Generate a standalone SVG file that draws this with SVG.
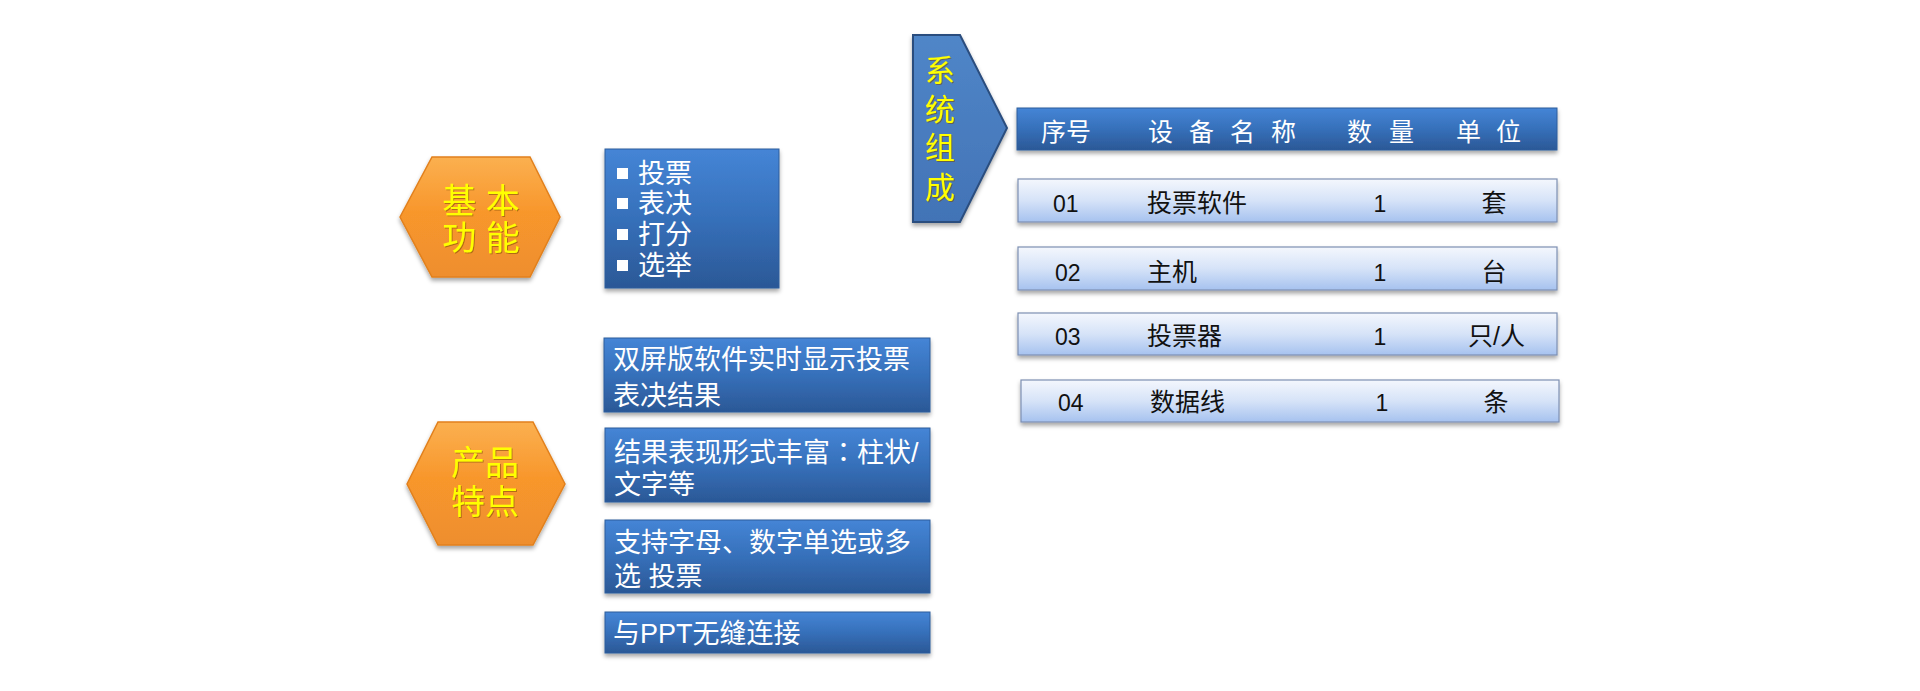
<svg xmlns="http://www.w3.org/2000/svg" width="1920" height="691" viewBox="0 0 1920 691">
<defs>
<linearGradient id="gBlue" x1="0" y1="0" x2="0" y2="1">
<stop offset="0" stop-color="#4585d6"/>
<stop offset="0.5" stop-color="#3670ba"/>
<stop offset="1" stop-color="#2b5896"/>
</linearGradient>
<linearGradient id="gRow" x1="0" y1="0" x2="0" y2="1">
<stop offset="0" stop-color="#f4f7fd"/>
<stop offset="0.5" stop-color="#d6e3f8"/>
<stop offset="1" stop-color="#a6c2ef"/>
</linearGradient>
<linearGradient id="gOrange" x1="0" y1="0" x2="0" y2="1">
<stop offset="0" stop-color="#fbb050"/>
<stop offset="0.45" stop-color="#f8972c"/>
<stop offset="1" stop-color="#ee8e2e"/>
</linearGradient>
<linearGradient id="gPent" x1="0" y1="0" x2="0" y2="1">
<stop offset="0" stop-color="#5086c8"/>
<stop offset="1" stop-color="#4273b6"/>
</linearGradient>
<filter id="sh" x="-10%" y="-20%" width="120%" height="150%">
<feDropShadow dx="0" dy="3" stdDeviation="2" flood-color="#000" flood-opacity="0.35"/>
</filter>
<filter id="tsh" x="-10%" y="-10%" width="130%" height="130%">
<feDropShadow dx="1" dy="1" stdDeviation="0.6" flood-color="#7a4a00" flood-opacity="0.55"/>
</filter>
</defs>
<style>
.blue{fill:url(#gBlue);stroke:#2f5d9c;stroke-width:1;filter:url(#sh)}
.row{fill:url(#gRow);stroke:#7d8fb2;stroke-width:1.2;filter:url(#sh)}
.hex{fill:url(#gOrange);stroke:#e2801c;stroke-width:1.5;filter:url(#sh)}
.pent{fill:url(#gPent);stroke:#2c4d7e;stroke-width:2;filter:url(#sh)}
.cjk{font-family:"Liberation Sans","Noto Sans CJK SC",sans-serif}
.tc{font-family:"Noto Sans CJK TC","Noto Sans CJK SC",sans-serif}
.yl{fill:#ffff00;font-size:34px;filter:url(#tsh)}
.wt{fill:#ffffff;font-size:27px}
.hd{fill:#ffffff;font-size:25px}
.bk{fill:#111111;font-size:25px}
.num{fill:#111111;font-size:23px}
.bul{fill:#ffffff}
</style>
<rect width="1920" height="691" fill="#ffffff"/>

<g id="node-basic">
<polygon class="hex" points="400,217 432,157 530,157 560,217 530,277 432,277"/>
<text class="cjk yl" text-anchor="middle"><tspan x="481" y="213">基 本</tspan><tspan x="481" y="250">功 能</tspan></text>
</g>

<g id="node-basic-list">
<rect class="blue" x="605" y="149" width="174" height="139"/>
<rect class="bul" x="617" y="168" width="11" height="11"/>
<rect class="bul" x="617" y="198" width="11" height="11"/>
<rect class="bul" x="617" y="229" width="11" height="11"/>
<rect class="bul" x="617" y="260" width="11" height="11"/>
<text class="cjk wt"><tspan x="638" y="183">投票</tspan><tspan x="638" y="213">表决</tspan><tspan x="638" y="244">打分</tspan><tspan x="638" y="275">选举</tspan></text>
</g>

<g id="node-features">
<polygon class="hex" points="407,484 438,422 533,422 565,484 533,545 438,545"/>
<text class="cjk yl" text-anchor="middle"><tspan x="485" y="475">产品</tspan><tspan x="485" y="514">特点</tspan></text>
</g>

<g id="node-feature-1">
<rect class="blue" x="604" y="338" width="326" height="74"/>
<text class="cjk wt"><tspan x="613" y="369">双屏版软件实时显示投票</tspan><tspan x="613" y="405">表决结果</tspan></text>
</g>

<g id="node-feature-2">
<rect class="blue" x="605" y="428" width="325" height="74"/>
<text class="cjk wt"><tspan x="614" y="462">结果表现形式丰富<tspan class="tc">：</tspan>柱状/</tspan><tspan x="614" y="494">文字等</tspan></text>
</g>

<g id="node-feature-3">
<rect class="blue" x="605" y="520" width="325" height="73"/>
<text class="cjk wt"><tspan x="614" y="552">支持字母、数字单选或多</tspan><tspan x="614" y="586">选 投票</tspan></text>
</g>

<g id="node-feature-4">
<rect class="blue" x="605" y="612" width="325" height="41"/>
<text class="cjk wt" x="613" y="643">与PPT无缝连接</text>
</g>

<g id="node-system">
<polygon class="pent" points="913,35 960,35 1007,128 960,222 913,222"/>
<text class="cjk yl" text-anchor="middle" style="font-size:30px"><tspan x="940" y="81">系</tspan><tspan x="940" y="120">统</tspan><tspan x="940" y="158">组</tspan><tspan x="940" y="198">成</tspan></text>
</g>

<g id="node-table-header">
<rect class="blue" x="1017" y="108" width="540" height="42"/>
<text class="cjk hd" x="1041" y="141">序号</text>
<text class="cjk hd" x="1148 1189 1230 1271" y="141">设备名称</text>
<text class="cjk hd" x="1347 1389" y="141">数量</text>
<text class="cjk hd" x="1456 1496" y="141">单位</text>
</g>

<g id="node-row-01">
<rect class="row" x="1018" y="179" width="539" height="43"/>
<text class="cjk num" x="1053" y="212">01</text>
<text class="cjk bk" x="1147" y="212">投票软件</text>
<text class="cjk num" x="1380" y="212" text-anchor="middle">1</text>
<text class="cjk bk" x="1494" y="212" text-anchor="middle">套</text>
</g>

<g id="node-row-02">
<rect class="row" x="1018" y="247" width="539" height="43"/>
<text class="cjk num" x="1055" y="281">02</text>
<text class="cjk bk" x="1147" y="281">主机</text>
<text class="cjk num" x="1380" y="281" text-anchor="middle">1</text>
<text class="cjk bk" x="1494" y="281" text-anchor="middle">台</text>
</g>

<g id="node-row-03">
<rect class="row" x="1018" y="313" width="539" height="42"/>
<text class="cjk num" x="1055" y="345">03</text>
<text class="cjk bk" x="1147" y="345">投票器</text>
<text class="cjk num" x="1380" y="345" text-anchor="middle">1</text>
<text class="cjk bk" x="1468" y="345">只/人</text>
</g>

<g id="node-row-04">
<rect class="row" x="1021" y="380" width="538" height="42"/>
<text class="cjk num" x="1058" y="411">04</text>
<text class="cjk bk" x="1150" y="411">数据线</text>
<text class="cjk num" x="1382" y="411" text-anchor="middle">1</text>
<text class="cjk bk" x="1496" y="411" text-anchor="middle">条</text>
</g>

<g id="connectors"/>
</svg>
